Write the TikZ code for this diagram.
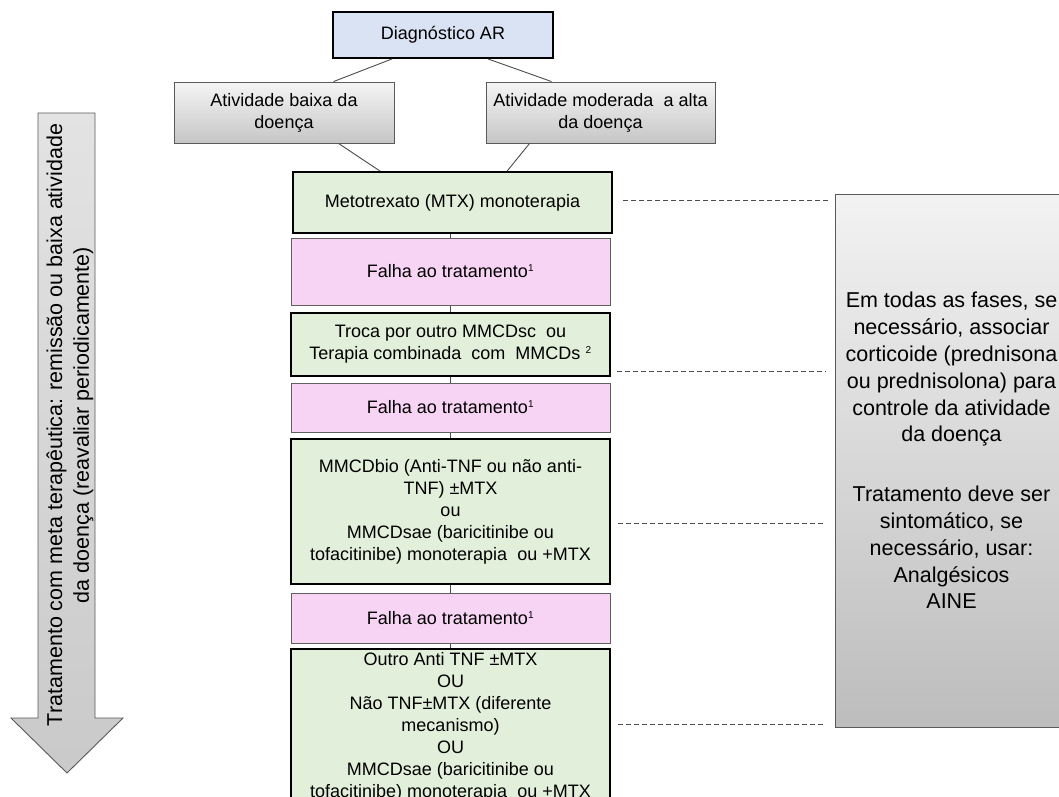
\documentclass[tikz,border=0pt]{standalone}
\usepackage{fontspec}
\setmainfont{Liberation Sans}
\usetikzlibrary{calc}
\definecolor{diagblue}{HTML}{DAE3F3}
\definecolor{stepgreen}{HTML}{E2EFDA}
\definecolor{failpink}{HTML}{F8D4F4}
\definecolor{edgegray}{HTML}{5A5A5A}
\begin{document}
\begin{tikzpicture}[x=1pt,y=-1pt,
  txt/.style={font=\fontsize{18}{22}\selectfont, align=center, inner sep=0pt, text=black},
  bluebox/.style={txt, draw=black, line width=1.8pt, fill=diagblue, minimum width=220pt, minimum height=46pt},
  graybox/.style={txt, draw=edgegray, line width=0.9pt, top color=gray!8, bottom color=gray!45, minimum height=61pt},
  greenbox/.style={txt, draw=black, line width=1.8pt, fill=stepgreen, minimum width=319pt},
  pinkbox/.style={txt, draw=gray!75!black, line width=1pt, fill=failpink, minimum width=319pt},
  link/.style={draw=black!70, line width=0.9pt},
  dashline/.style={draw=black!70, line width=0.8pt, dash pattern=on 5pt off 3pt},
  bigtxt/.style={font=\fontsize{21.5}{26.8}\selectfont, align=center, inner sep=0pt, text=black}
]
\path[use as bounding box] (0,0) rectangle (1059,796);
\clip (0,0) rectangle (1059,796);
\fill[white] (0,0) rectangle (1059,796);

% left arrow
\draw[draw=edgegray, line width=0.9pt, top color=gray!22, bottom color=gray!42]
  (38,113) -- (95,113) -- (95,718) -- (123,718) -- (67,773) -- (11,718) -- (38,718) -- cycle;
\node[bigtxt, rotate=90] (arrowtxt) at (70,425)
  {Tratamento com meta terapêutica: remissão ou baixa atividade\\da doença (reavaliar periodicamente)};

% top nodes
\node[bluebox] (diag) at (443,35) {Diagnóstico AR};
\node[graybox, minimum width=220pt] (low) at (284,112.5) {Atividade baixa da\\doença};
\node[graybox, minimum width=229pt] (mod) at (600.5,112.5) {Atividade moderada\ \ a alta\\da doença};

% flow
\node[greenbox, minimum height=61pt] (met) at (452.5,202.5) {Metotrexato (MTX) monoterapia};
\node[pinkbox, minimum height=67pt] (fail1) at (450.5,271.5) {Falha ao tratamento\textsuperscript{\fontsize{10}{10}\selectfont 1}};
\node[greenbox, minimum height=63pt] (troca) at (450.5,344.5)
  {Troca por outro MMCDsc\ \ ou\\Terapia combinada\ \ com\ \ MMCDs \textsuperscript{\fontsize{10}{10}\selectfont 2}};
\node[pinkbox, minimum height=49pt] (fail2) at (450.5,407.5) {Falha ao tratamento\textsuperscript{\fontsize{10}{10}\selectfont 1}};
\node[greenbox, minimum height=145pt] (mmcd) at (450.5,511.5)
  {MMCDbio (Anti-TNF ou não anti-\\TNF) ±MTX\\ou\\MMCDsae (baricitinibe ou\\tofacitinibe) monoterapia\ \ ou +MTX};
\node[pinkbox, minimum height=50pt] (fail3) at (450.5,618) {Falha ao tratamento\textsuperscript{\fontsize{10}{10}\selectfont 1}};
\node[greenbox, anchor=north, inner ysep=4pt] (outro) at (450.5,648)
  {Outro Anti TNF ±MTX\\OU\\Não TNF±MTX (diferente\\mecanismo)\\OU\\MMCDsae (baricitinibe ou\\tofacitinibe) monoterapia\ \ ou +MTX};

% right box
\node[draw=edgegray, line width=0.9pt, top color=gray!10, bottom color=gray!52,
      minimum width=233pt, minimum height=533pt, inner sep=0pt] (side) at (951.5,460.5) {};
\node[bigtxt] (sidetxt) at ($(side.center)+(0,-10)$)
  {Em todas as fases, se\\necessário, associar\\corticoide (prednisona\\ou prednisolona)\ para\\controle da atividade\\da doença\\[33pt]Tratamento deve ser\\sintomático, se\\necessário, usar:\\Analgésicos\\AINE};

% connectors
\draw[link] ($(diag.south west)+(60,0)$) -- ($(low.north west)+(160,0)$);
\draw[link] ($(diag.south east)+(-66,0)$) -- ($(mod.north west)+(66,0)$);
\draw[link] ($(low.south west)+(165,0)$) -- ($(met.north west)+(88,0)$);
\draw[link] ($(mod.south west)+(44,0)$) -- ($(met.north west)+(215,0)$);
\draw[link] (met.south -| fail1.north) -- (fail1.north);
\draw[link] (fail1.south) -- (troca.north);
\draw[link] (troca.south) -- (fail2.north);
\draw[link] (fail2.south) -- (mmcd.north);
\draw[link] (mmcd.south) -- (fail3.north);
\draw[link] (fail3.south) -- (outro.north);

% dashed leaders
\draw[dashline] ($(met.east)+(10,-2)$) -- ($(side.west |- met.east)+(-5,-2)$);
\draw[dashline] ($(troca.east)+(6,26.5)$) -- ($(side.west |- troca.east)+(-9,26.5)$);
\draw[dashline] ($(mmcd.east)+(7,11.5)$) -- ($(side.west |- mmcd.east)+(-9,11.5)$);
\draw[dashline] ($(outro.north east)+(7,76)$) -- ($(side.west |- outro.north east)+(-9,76)$);
\end{tikzpicture}
\end{document}
